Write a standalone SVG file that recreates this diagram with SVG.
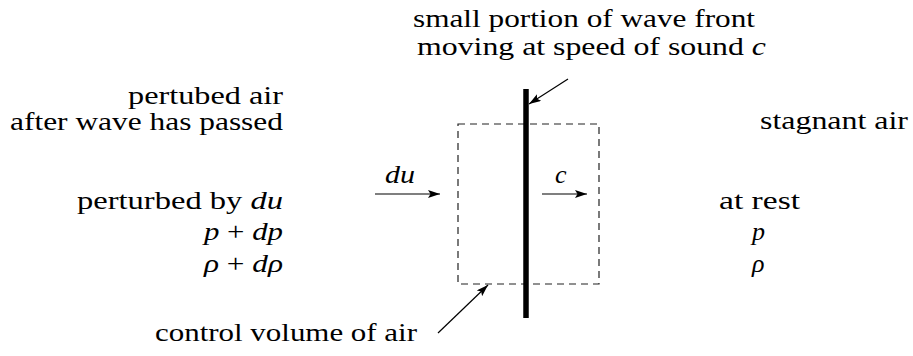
<svg xmlns="http://www.w3.org/2000/svg" width="913" height="356" viewBox="0 0 913 356">
  <style>
    .conn { stroke: #000; stroke-width: 1.2; fill: none; }
  </style>
  <defs>
    <marker id="ah" markerUnits="userSpaceOnUse" markerWidth="12" markerHeight="8" refX="12" refY="4" orient="auto">
      <path d="M0,0 L12,4 L0,8 L2.5,4 z" fill="#000"/>
    </marker>
  </defs>
  <rect width="913" height="356" fill="#fff"/>

  <g id="control-volume">
    <rect x="458" y="124" width="141" height="160" fill="none" stroke="#222" stroke-width="1.2" stroke-dasharray="7 5"/>
  </g>
  <g id="wave-front">
    <line x1="526" y1="89" x2="526" y2="318" stroke="#000" stroke-width="5.5"/>
  </g>

  <g id="label-wave-front">
    <text x="413" y="27" font-family="Liberation Serif, serif" font-size="26" textLength="342" lengthAdjust="spacingAndGlyphs">small portion of wave front</text>
    <text x="417" y="55" font-family="Liberation Serif, serif" font-size="26" textLength="349" lengthAdjust="spacingAndGlyphs">moving at speed of sound <tspan font-style="italic">c</tspan></text>
  </g>
  <g id="label-perturbed">
    <text x="128" y="104" font-family="Liberation Serif, serif" font-size="26" textLength="155" lengthAdjust="spacingAndGlyphs">pertubed air</text>
    <text x="10" y="130" font-family="Liberation Serif, serif" font-size="26" textLength="273" lengthAdjust="spacingAndGlyphs">after wave has passed</text>
    <text x="77" y="209" font-family="Liberation Serif, serif" font-size="26" textLength="206" lengthAdjust="spacingAndGlyphs">perturbed by <tspan font-style="italic">du</tspan></text>
    <text x="204" y="240" font-family="Liberation Serif, serif" font-size="26" textLength="79" lengthAdjust="spacingAndGlyphs"><tspan font-style="italic">p</tspan> + <tspan font-style="italic">dp</tspan></text>
    <text x="204" y="272" font-family="Liberation Serif, serif" font-size="26" textLength="79" lengthAdjust="spacingAndGlyphs"><tspan font-style="italic">ρ</tspan> + <tspan font-style="italic">dρ</tspan></text>
  </g>
  <g id="label-stagnant">
    <text x="760" y="129" font-family="Liberation Serif, serif" font-size="26" textLength="148" lengthAdjust="spacingAndGlyphs">stagnant air</text>
    <text x="719" y="209" font-family="Liberation Serif, serif" font-size="26" textLength="81" lengthAdjust="spacingAndGlyphs">at rest</text>
    <text x="752" y="240" font-family="Liberation Serif, serif" font-size="26" font-style="italic">p</text>
    <text x="752" y="272" font-family="Liberation Serif, serif" font-size="26" font-style="italic">ρ</text>
  </g>
  <g id="label-du">
    <text x="385" y="183" font-family="Liberation Serif, serif" font-size="26" font-style="italic" textLength="30" lengthAdjust="spacingAndGlyphs">du</text>
  </g>
  <g id="label-c">
    <text x="555" y="183" font-family="Liberation Serif, serif" font-size="26" font-style="italic">c</text>
  </g>
  <g id="label-control-volume">
    <text x="155" y="341" font-family="Liberation Serif, serif" font-size="26" textLength="262" lengthAdjust="spacingAndGlyphs">control volume of air</text>
  </g>

  <g id="connectors">
    <line class="conn" x1="568" y1="79" x2="529" y2="104" marker-end="url(#ah)"/>
    <line class="conn" x1="375" y1="194" x2="440" y2="194" marker-end="url(#ah)"/>
    <line class="conn" x1="542" y1="194" x2="587" y2="194" marker-end="url(#ah)"/>
    <line class="conn" x1="438" y1="333" x2="488" y2="285" marker-end="url(#ah)"/>
  </g>
</svg>
